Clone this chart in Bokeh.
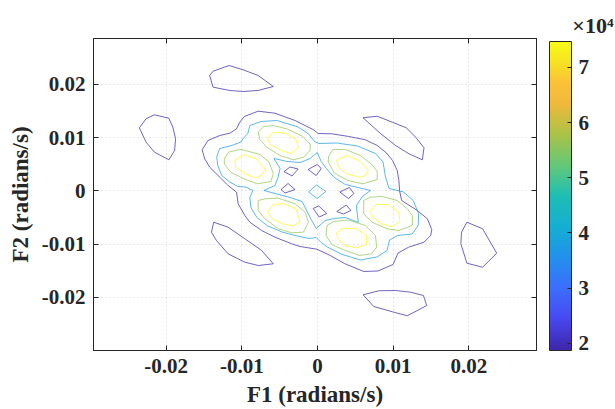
import numpy as np
from bokeh.plotting import figure
from bokeh.models import (ColumnDataSource, LinearColorMapper, ColorBar, FixedTicker,
                          LinearAxis, Range1d)
from bokeh.embed import file_html
from bokeh.resources import INLINE

# ---------------- tick values / labels ----------------
x_ticks = [-0.02, -0.01, 0.0, 0.01, 0.02]
x_tick_labels = ["-0.02", "-0.01", "0", "0.01", "0.02"]
y_ticks = [-0.02, -0.01, 0.0, 0.01, 0.02]
y_tick_labels = ["-0.02", "-0.01", "0", "0.01", "0.02"]
cbar_ticks = [20000, 30000, 40000, 50000, 60000, 70000]
cbar_tick_labels = ["2", "3", "4", "5", "6", "7"]
cbar_exponent = "\u00d710\u2074"

# ---------------- contour levels (|H|) ----------------
levels = [18700, 37350, 56000, 74700]

# ---------------- level-1 contours (purple) ----------------
A_x = [-0.01425, -0.01381, -0.01169, -0.00983, -0.00784, -0.00584, -0.00784, -0.00983, -0.01159, -0.01381]
A_y = [0.02165, 0.02246, 0.02353, 0.02272, 0.02165, 0.01959, 0.01884, 0.01865, 0.01884, 0.01946]
B_x = [-0.02355, -0.02266, -0.02155, -0.01965, -0.01912, -0.01876, -0.01889, -0.01965, -0.02155, -0.02266]
B_y = [0.01183, 0.01352, 0.01427, 0.01363, 0.01194, 0.00977, 0.00757, 0.00582, 0.00725, 0.00913]
C_x = [0.00603, 0.00789, 0.00988, 0.01174, 0.01297, 0.01408, 0.01386, 0.01209, 0.01032, 0.00837]
C_y = [0.01371, 0.01401, 0.01288, 0.01183, 0.01007, 0.00808, 0.00582, 0.00695, 0.00851, 0.01070]
D_x = [0.01975, 0.02183, 0.02369, 0.02183, 0.01975, 0.01895, 0.01904]
D_y = [-0.00590, -0.00714, -0.01172, -0.01435, -0.01360, -0.00995, -0.00777]
E_x = [0.00603, 0.00810, 0.01032, 0.01231, 0.01400, 0.01444, 0.01187, 0.01009, 0.00744]
E_y = [-0.01953, -0.01878, -0.01872, -0.01904, -0.01966, -0.02154, -0.02347, -0.02280, -0.02173]
F_x = [-0.01372, -0.01182, -0.00960, -0.00738, -0.00584, -0.00784, -0.00960, -0.01182, -0.01336, -0.01402]
F_y = [-0.00590, -0.00684, -0.00901, -0.01121, -0.01371, -0.01403, -0.01341, -0.01183, -0.00933, -0.00777]
outer1_x = [-0.01525, -0.01448, -0.01292, -0.01159, -0.01070, -0.01027, -0.00969, -0.00784, -0.00562, -0.00296,
            -0.00053, 0.00009, 0.00191, 0.00412, 0.00633, 0.00789, 0.00912, 0.00992, 0.01054, 0.01076,
            0.01085, 0.01112, 0.01320, 0.01453, 0.01510, 0.01497, 0.01408, 0.01204, 0.01065, 0.00999,
            0.00799, 0.00611, 0.00355, 0.00169, -0.00008, -0.00230, -0.00340, -0.00562, -0.00738, -0.00894,
            -0.00960, -0.01049, -0.01070, -0.01182, -0.01270, -0.01425, -0.01491]
outer1_y = [0.00770, 0.00945, 0.01038, 0.01082, 0.01164, 0.01288, 0.01395, 0.01495, 0.01457, 0.01320,
            0.01146, 0.01076, 0.01070, 0.01020, 0.00958, 0.00851, 0.00710, 0.00569, 0.00381, 0.00193,
            0.00006, -0.00182, -0.00370, -0.00526, -0.00727, -0.00839, -0.00965, -0.01059, -0.01168, -0.01384,
            -0.01506, -0.01515, -0.01365, -0.01215, -0.01097, -0.01046, -0.00995, -0.00871, -0.00746, -0.00590,
            -0.00464, -0.00244, -0.00026, 0.00100, 0.00225, 0.00443, 0.00601]
P1_x = [-0.00442, -0.00363, -0.00256, -0.00336]
P1_y = [0.00362, 0.00447, 0.00409, 0.00278]
P2_x = [-0.00124, -0.00004, 0.00049, -0.00017]
P2_y = [0.00400, 0.00494, 0.00419, 0.00287]
P3_x = [-0.00482, -0.00389, -0.00296, -0.00429]
P3_y = [0.00024, 0.00137, 0.00024, -0.00041]
P4_x = [0.00295, 0.00421, 0.00481, 0.00408]
P4_y = [-0.00023, 0.00062, -0.00051, -0.00145]
P5_x = [-0.00057, 0.00016, 0.00122, 0.00023]
P5_y = [-0.00332, -0.00285, -0.00426, -0.00492]
P6_x = [0.00255, 0.00381, 0.00441, 0.00341]
P6_y = [-0.00389, -0.00267, -0.00370, -0.00436]

# ---------------- level-2 contours (blue) ----------------
outer2_x = [-0.01332, -0.01292, -0.01133, -0.01013, -0.00973, -0.00920, -0.00894, -0.00748, -0.00535, -0.00256,
            -0.00124, -0.00031, 0.00016, 0.00255, 0.00527, 0.00766, 0.00866, 0.00899, 0.00946, 0.01138,
            0.01264, 0.01337, 0.01331, 0.01251, 0.01058, 0.00952, 0.00919, 0.00786, 0.00567, 0.00328,
            0.00129, 0.00049, -0.00017, -0.00110, -0.00296, -0.00469, -0.00668, -0.00801, -0.00880, -0.00894,
            -0.00854, -0.00947, -0.01053, -0.01159, -0.01266, -0.01319]
outer2_y = [0.00644, 0.00794, 0.00851, 0.00916, 0.01001, 0.01076, 0.01226, 0.01301, 0.01320, 0.01198,
            0.01076, 0.00916, 0.00888, 0.00898, 0.00841, 0.00700, 0.00541, 0.00259, 0.00043, -0.00023,
            -0.00182, -0.00426, -0.00652, -0.00811, -0.00839, -0.00924, -0.01121, -0.01243, -0.01300, -0.01196,
            -0.01055, -0.00971, -0.00877, -0.00896, -0.00839, -0.00774, -0.00652, -0.00501, -0.00314, -0.00126,
            0.00006, 0.00071, 0.00081, 0.00165, 0.00287, 0.00475]
inner2_x = [-0.00004, 0.00049, 0.00116, 0.00222, 0.00368, 0.00700, 0.00594, 0.00514, 0.00527, 0.00540,
            0.00368, 0.00222, 0.00102, -0.00017, -0.00084, -0.00203, -0.00363, -0.00708, -0.00562, -0.00522,
            -0.00495, -0.00575, -0.00402, -0.00230, -0.00097]
inner2_y = [0.00719, 0.00550, 0.00419, 0.00250, 0.00118, 0.00006, -0.00107, -0.00276, -0.00445, -0.00595,
            -0.00501, -0.00520, -0.00558, -0.00708, -0.00539, -0.00201, -0.00126, 0.00006, 0.00100, 0.00250,
            0.00419, 0.00607, 0.00550, 0.00531, 0.00607]
center2_x = [-0.00117, -0.00011, 0.00109, -0.00004]
center2_y = [-0.00023, 0.00109, -0.00013, -0.00145]

# ---------------- level-3 contours (green) ----------------
Ga_x = [-0.01232, -0.01173, -0.01013, -0.00761, -0.00641, -0.00584, -0.00615, -0.00794, -0.00973, -0.01146, -0.01232]
Ga_y = [0.00597, 0.00729, 0.00779, 0.00682, 0.00541, 0.00325, 0.00175, 0.00131, 0.00225, 0.00349, 0.00503]
Gb_x = [-0.00784, -0.00708, -0.00584, -0.00406, -0.00197, -0.00097, -0.00097, -0.00186, -0.00319, -0.00495, -0.00672, -0.00761]
Gb_y = [0.01104, 0.01207, 0.01226, 0.01164, 0.01023, 0.00879, 0.00757, 0.00631, 0.00582, 0.00663, 0.00819, 0.00963]
Gc_x = [0.00146, 0.00202, 0.00368, 0.00567, 0.00733, 0.00789, 0.00789, 0.00600, 0.00401, 0.00222, 0.00142]
Gc_y = [0.00644, 0.00776, 0.00776, 0.00663, 0.00475, 0.00362, 0.00212, 0.00131, 0.00193, 0.00334, 0.00541]
Gd_x = [-0.00784, -0.00695, -0.00518, -0.00296, -0.00163, -0.00120, -0.00186, -0.00340, -0.00518, -0.00695, -0.00784]
Gd_y = [-0.00182, -0.00150, -0.00139, -0.00244, -0.00402, -0.00590, -0.00777, -0.00789, -0.00714, -0.00526, -0.00370]
Ge_x = [0.00611, 0.00700, 0.00855, 0.01054, 0.01187, 0.01254, 0.01254, 0.01076, 0.00922, 0.00722, 0.00611]
Ge_y = [-0.00182, -0.00120, -0.00107, -0.00182, -0.00338, -0.00464, -0.00652, -0.00746, -0.00714, -0.00590, -0.00432]
Gf_x = [0.00125, 0.00212, 0.00412, 0.00633, 0.00766, 0.00782, 0.00713, 0.00554, 0.00368, 0.00191, 0.00113]
Gf_y = [-0.00652, -0.00577, -0.00548, -0.00652, -0.00839, -0.01059, -0.01183, -0.01215, -0.01121, -0.01012, -0.00839]

# ---------------- level-4 contours (yellow) ----------------
Ya_x = [-0.01093, -0.00973, -0.00814, -0.00688, -0.00748, -0.00814, -0.00947, -0.01080]
Ya_y = [0.00569, 0.00682, 0.00601, 0.00400, 0.00287, 0.00240, 0.00312, 0.00443]
Yb_x = [-0.00661, -0.00584, -0.00422, -0.00283, -0.00256, -0.00349, -0.00482, -0.00628]
Yb_y = [0.01001, 0.01095, 0.01085, 0.00963, 0.00813, 0.00700, 0.00757, 0.00869]
Yc_x = [0.00252, 0.00390, 0.00544, 0.00673, 0.00633, 0.00554, 0.00381, 0.00279]
Yc_y = [0.00575, 0.00663, 0.00569, 0.00400, 0.00287, 0.00255, 0.00319, 0.00443]
Yd_x = [-0.00661, -0.00584, -0.00442, -0.00283, -0.00230, -0.00323, -0.00462, -0.00595]
Yd_y = [-0.00402, -0.00254, -0.00244, -0.00338, -0.00590, -0.00657, -0.00620, -0.00526]
Ye_x = [0.00700, 0.00780, 0.00932, 0.01076, 0.01088, 0.00988, 0.00846, 0.00733]
Ye_y = [-0.00370, -0.00257, -0.00257, -0.00402, -0.00577, -0.00676, -0.00620, -0.00496]
Yf_x = [0.00248, 0.00335, 0.00501, 0.00647, 0.00647, 0.00514, 0.00368, 0.00275]
Yf_y = [-0.00792, -0.00708, -0.00704, -0.00839, -0.01008, -0.01074, -0.01027, -0.00901]

contours = [
    (0, A_x, A_y), (0, B_x, B_y), (0, C_x, C_y), (0, D_x, D_y), (0, E_x, E_y), (0, F_x, F_y),
    (0, outer1_x, outer1_y),
    (0, P1_x, P1_y), (0, P2_x, P2_y), (0, P3_x, P3_y), (0, P4_x, P4_y), (0, P5_x, P5_y), (0, P6_x, P6_y),
    (1, outer2_x, outer2_y), (1, inner2_x, inner2_y), (1, center2_x, center2_y),
    (2, Ga_x, Ga_y), (2, Gb_x, Gb_y), (2, Gc_x, Gc_y), (2, Gd_x, Gd_y), (2, Ge_x, Ge_y), (2, Gf_x, Gf_y),
    (3, Ya_x, Ya_y), (3, Yb_x, Yb_y), (3, Yc_x, Yc_y), (3, Yd_x, Yd_y), (3, Ye_x, Ye_y), (3, Yf_x, Yf_y),
]

src = ColumnDataSource(dict(
    xs=[list(cx) + [cx[0]] for _, cx, cy in contours],
    ys=[list(cy) + [cy[0]] for _, cx, cy in contours],
    level=[levels[i] for i, _, _ in contours],
))

# ---------------- parula-like colormap ----------------
anch_t = [0.0, 0.1, 0.2, 0.3, 0.4, 0.5, 0.6, 0.7, 0.8, 0.87, 0.93, 1.0]
anch_rgb = [(62, 38, 168), (71, 72, 240), (60, 110, 253), (34, 145, 236), (20, 175, 210),
            (30, 190, 180), (100, 200, 120), (170, 195, 70), (240, 185, 60), (252, 195, 55),
            (245, 225, 35), (249, 251, 21)]
tt = np.linspace(0, 1, 256)
arr = np.array(anch_rgb, dtype=float)
palette = []
for t in tt:
    r = np.interp(t, anch_t, arr[:, 0]); g = np.interp(t, anch_t, arr[:, 1]); b = np.interp(t, anch_t, arr[:, 2])
    palette.append("#%02x%02x%02x" % (int(round(r)), int(round(g)), int(round(b))))

mapper = LinearColorMapper(palette=palette, low=levels[0], high=levels[-1])

FONT = "Liberation Serif"
TXT = "#262626"

p = figure(width=615, height=409, output_backend="svg", toolbar_location=None,
           x_range=Range1d(-0.02961, 0.02895), y_range=Range1d(-0.02999, 0.0286),
           min_border_left=93, min_border_right=79, min_border_top=38, min_border_bottom=59)
p.background_fill_color = "white"
p.border_fill_color = "white"
p.outline_line_color = TXT
p.outline_line_width = 1

p.multi_line(xs="xs", ys="ys", source=src, line_width=0.85, line_alpha=0.85,
             line_color=dict(field="level", transform=mapper))

for ax, ticks, labs in ((p.xaxis[0], x_ticks, x_tick_labels), (p.yaxis[0], y_ticks, y_tick_labels)):
    ax.ticker = FixedTicker(ticks=ticks)
    ax.major_label_overrides = dict(zip(ticks, labs))
    ax.major_label_text_font = FONT
    ax.major_label_text_font_size = "21px"
    ax.major_label_text_font_style = "bold"
    ax.major_label_text_color = TXT
    ax.axis_label_text_font = FONT
    ax.axis_label_text_font_size = "23px"
    ax.axis_label_text_font_style = "bold"
    ax.axis_label_text_color = TXT
    ax.major_tick_in = 5
    ax.major_tick_out = 0
    ax.minor_tick_line_color = None
    ax.axis_line_color = TXT
    ax.major_tick_line_color = TXT
    ax.major_label_standoff = 8
    ax.axis_label_standoff = 6

p.xaxis.axis_label = "F1 (radians/s)"
p.yaxis.axis_label = "F2 (radians/s)"

p.xgrid.ticker = FixedTicker(ticks=x_ticks)
p.ygrid.ticker = FixedTicker(ticks=y_ticks)
p.grid.grid_line_color = "#d4d4d4"
p.grid.grid_line_dash = "1 3"

# box ticks on top / right (drawn as unlabeled minor ticks)
top = LinearAxis(ticker=FixedTicker(ticks=[], minor_ticks=x_ticks),
                 major_tick_in=0, major_tick_out=0, major_label_standoff=0,
                 minor_tick_in=5, minor_tick_out=0, minor_tick_line_color=TXT,
                 axis_line_color=TXT)
p.add_layout(top, "above")
right = LinearAxis(ticker=FixedTicker(ticks=[], minor_ticks=y_ticks),
                   major_tick_in=0, major_tick_out=0, major_label_standoff=0,
                   major_tick_line_color=None,
                   minor_tick_in=5, minor_tick_out=0, minor_tick_line_color=TXT,
                   axis_line_color=TXT)
p.add_layout(right, "right")

cb = ColorBar(color_mapper=mapper, ticker=FixedTicker(ticks=cbar_ticks),
              major_label_overrides=dict(zip(cbar_ticks, cbar_tick_labels)),
              width=22, height=309, padding=0, label_standoff=7, location=(13, 0),
              major_label_text_font=FONT, major_label_text_font_size="21px",
              major_label_text_font_style="bold", major_label_text_color=TXT,
              major_tick_line_color=TXT, major_tick_in=4, major_tick_out=0,
              minor_tick_line_color=None, bar_line_color=TXT, border_line_color=None,
              background_fill_color=None)
p.add_layout(cb, "right")

p.title.text = cbar_exponent
p.title.align = "right"
p.title.offset = -77
p.title.text_font = FONT
p.title.text_font_size = "22px"
p.title.text_font_style = "bold"
p.title.text_color = TXT
p.title.standoff = 2

open("out.html", "w").write(file_html(p, INLINE))
